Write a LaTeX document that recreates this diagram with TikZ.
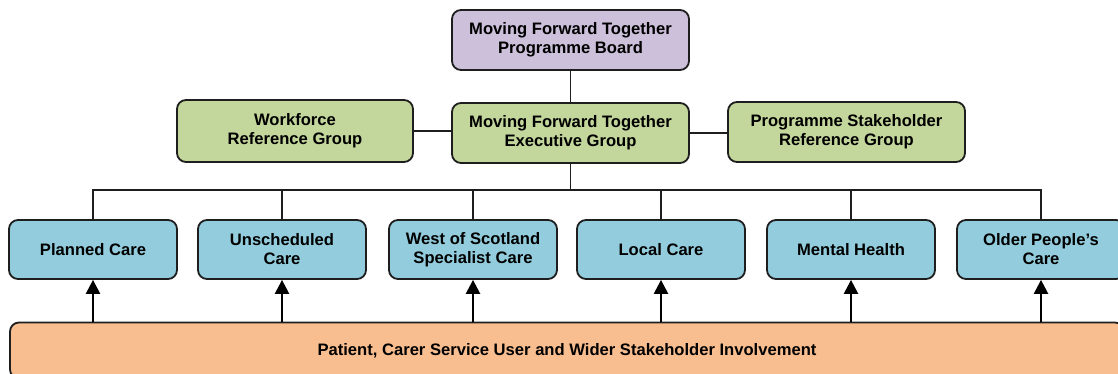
\documentclass[tikz,border=0pt]{standalone}
\usepackage{fontspec}
\setmainfont{Liberation Sans}
\usetikzlibrary{arrows.meta}
\definecolor{boardc}{HTML}{CCC0DA}
\definecolor{greenc}{HTML}{C3D69B}
\definecolor{bluec}{HTML}{93CDDD}
\definecolor{orangec}{HTML}{F9BE8F}
\definecolor{edgec}{HTML}{1E1E1E}
\begin{document}
\begin{tikzpicture}[x=1pt,y=-1pt,
  box/.style={draw=edgec,line width=1.8pt,rounded corners=9pt,align=center,
    font=\fontsize{16.6}{19}\selectfont\bfseries,text=black,inner sep=0pt},
  topbox/.style={box,minimum width=237pt,minimum height=60pt},
  carebox/.style={box,fill=bluec,minimum width=168pt,minimum height=59pt},
  conn/.style={line width=1.5pt,draw=edgec},
  up/.style={line width=2.4pt,draw=black,-{Triangle[length=14pt,width=14pt]}}]
\useasboundingbox (0,0) rectangle (1118,374);
\node[topbox,fill=boardc] (board) at (570.5,40) {Moving Forward Together\\Programme Board};
\node[topbox,fill=greenc] (exec) at (570.5,133) {Moving Forward Together\\Executive Group};
\node[topbox,fill=greenc,minimum width=236pt,minimum height=62pt] (work) at (295,131) {Workforce\\Reference Group};
\node[topbox,fill=greenc] (stake) at (846.5,132) {Programme Stakeholder\\Reference Group};
\node[carebox] (pc) at (93,249.5) {Planned Care};
\node[carebox] (uc) at (282,249.5) {Unscheduled\\Care};
\node[carebox] (ws) at (473,249.5) {West of Scotland\\Specialist Care};
\node[carebox] (lc) at (661,249.5) {Local Care};
\node[carebox] (mh) at (851,249.5) {Mental Health};
\node[carebox] (op) at (1041,249.5) {Older People's\\Care};
\node[box,fill=orangec,minimum width=1114pt,minimum height=56pt] (pat) at (567,350.5) {Patient, Carer Service User and Wider Stakeholder Involvement};
\coordinate (bus) at (570,190);
\draw[conn] (board) -- (exec);
\draw[conn] (work.east) -- (work.east -| exec.west);
\draw[conn] (exec.east) -- (exec.east -| stake.west);
\draw[conn] (exec.south) -- (exec.south |- bus);
\draw[conn] (pc.north) -- (pc.north |- bus) -- (op.north |- bus) -- (op.north);
\foreach \n in {uc,ws,lc,mh}{\draw[conn] (\n.north) -- (\n.north |- bus);}
\foreach \n in {pc,uc,ws,lc,mh,op}{\draw[up] (\n.south |- pat.north) -- (\n.south);}
\end{tikzpicture}
\end{document}
